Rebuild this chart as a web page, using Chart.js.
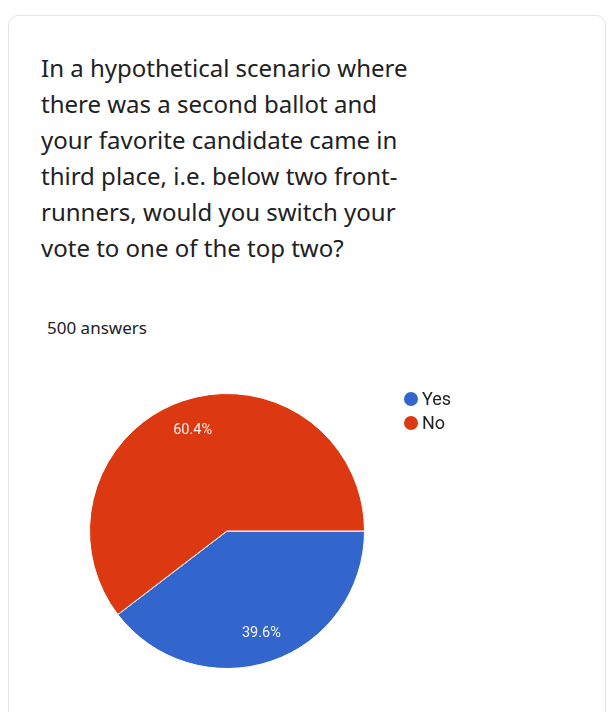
<!DOCTYPE html>
<html>
<head>
<meta charset="utf-8">
<script src="https://cdn.jsdelivr.net/npm/chart.js@4"></script>
<style>
  html, body { margin: 0; padding: 0; background: #fff; }
  body { width: 610px; height: 712px; position: relative; overflow: hidden; font-family: "Noto Sans", Roboto, sans-serif; }
  .card { position: absolute; left: 8px; top: 15px; width: 596px; height: 720px; border: 1px solid #e3e3e8; border-radius: 10px; background: #fff; }
  .title { position: absolute; left: 41px; top: 50px; width: 520px; font-size: 24px; line-height: 36px; color: #202124; white-space: nowrap; }
  .count { position: absolute; left: 47px; top: 316px; font-size: 17px; color: #202124; }
  .wrap { position: absolute; left: 0; top: 380px; width: 610px; height: 300px; }
</style>
</head>
<body>
<div class="card"></div>
<div class="title" id="title"></div>
<div class="count" id="count"></div>
<div class="wrap"><canvas id="pie" width="610" height="300"></canvas></div>
<script>
const questionLines = [
    'In a hypothetical scenario where',
    'there was a second ballot and',
    'your favorite candidate came in',
    'third place, i.e. below two front-',
    'runners, would you switch your',
    'vote to one of the top two?'
]
const answers = ['Yes', 'No']
const shares = [39.6, 60.4]
const colors = ['#3366cc', '#dc3912']
const total = 500

const titleEl = document.getElementById('title')
questionLines.forEach(line => {
    const d = document.createElement('div')
    d.textContent = line
    titleEl.appendChild(d)
})
document.getElementById('count').textContent = total + ' answers'

const ctx = document.getElementById('pie').getContext('2d')

// percentage labels inside the slices
const sliceLabels = {
    id: 'sliceLabels',
    afterDatasetsDraw(chart) {
        const c = chart.ctx
        const meta = chart.getDatasetMeta(0)
        c.save()
        c.font = '14.5px Roboto'
        c.fillStyle = '#f4f4f4'
        c.textAlign = 'center'
        c.textBaseline = 'middle'
        meta.data.forEach((arc, i) => {
            const p = arc.getProps(['x', 'y', 'startAngle', 'endAngle', 'outerRadius'], true)
            const mid = (p.startAngle + p.endAngle) / 2
            const r = p.outerRadius * 0.78
            c.fillText(shares[i].toFixed(1) + '%', p.x + Math.cos(mid) * r, p.y + Math.sin(mid) * r + 1)
        })
        c.restore()
    }
}

// legend to the right of the pie
const sideLegend = {
    id: 'sideLegend',
    afterDraw(chart) {
        const c = chart.ctx
        c.save()
        c.font = '18px Roboto'
        c.textBaseline = 'middle'
        answers.forEach((name, i) => {
            const y = 19 + i * 24
            c.fillStyle = colors[i]
            c.beginPath()
            c.arc(411, y, 7, 0, Math.PI * 2)
            c.fill()
            c.fillStyle = '#222222'
            c.fillText(name, 422, y + 1)
        })
        c.restore()
    }
}

let pieChart = new Chart(ctx, {
    type: 'pie',
    data: {
        labels: answers,
        datasets: [{
            data: shares,
            backgroundColor: colors,
            borderColor: '#ffffff',
            borderWidth: 1
        }]
    },
    options: {
        responsive: false,
        animation: false,
        rotation: 90,
        layout: { padding: { left: 89, right: 245, top: 13, bottom: 11 } },
        plugins: {
            legend: { display: false },
            tooltip: { enabled: false }
        }
    },
    plugins: [sliceLabels, sideLegend]
})
</script>
</body>
</html>
